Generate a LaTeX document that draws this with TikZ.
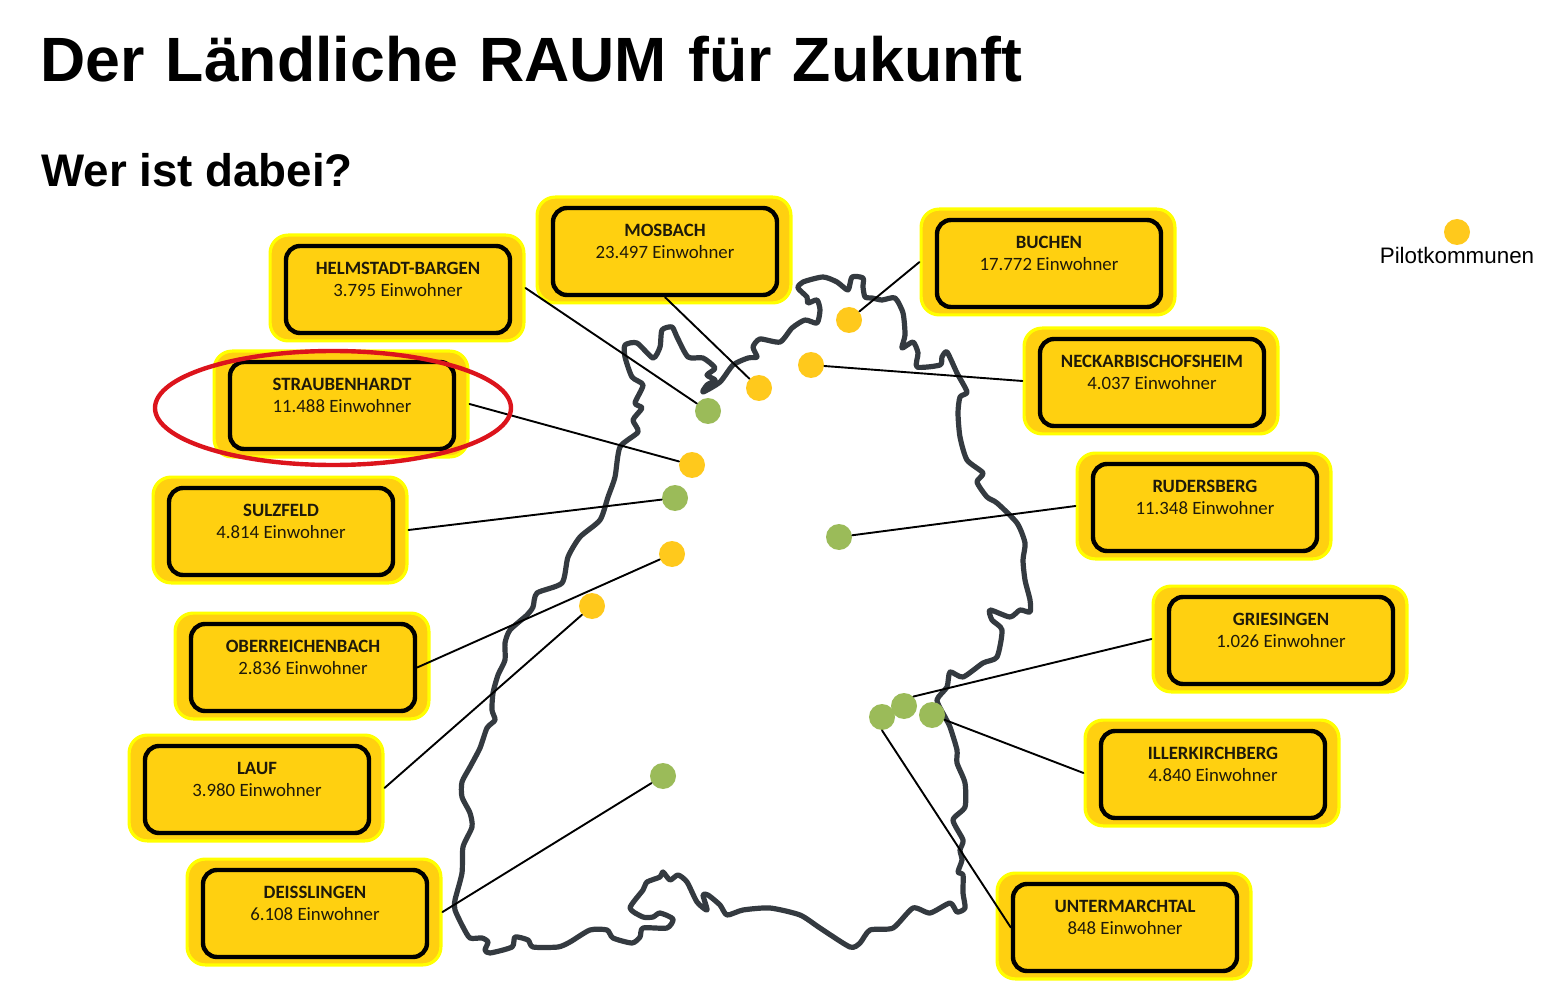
\documentclass[tikz,border=0pt]{standalone}
\usepackage{fontspec}
\setmainfont{Liberation Sans}
\newfontfamily\cityfont{Carlito}
\usepackage{tikz}
\usetikzlibrary{positioning}
\definecolor{citygold}{HTML}{FFD010}
\definecolor{cityhalo}{HTML}{FFFF00}
\definecolor{dotgold}{HTML}{FFC91C}
\definecolor{dotgreen}{HTML}{9BBB59}
\definecolor{outlinegray}{HTML}{343A40}
\definecolor{circlered}{HTML}{DC141C}
\definecolor{citytext}{HTML}{1F1A0A}
\tikzset{
halobox/.style={rectangle,rounded corners=9pt,draw=cityhalo,fill=citygold,line width=1.6pt,minimum width=126.9pt,minimum height=52.9pt,inner sep=0pt},
citybox/.style={rectangle,rounded corners=7pt,draw=black,line width=2.2pt,minimum width=112pt,minimum height=43.5pt,inner sep=0pt,align=center,text=citytext,font=\cityfont\fontsize{9.4}{11}\selectfont},
pilotgold/.style={circle,fill=dotgold,minimum size=13pt,inner sep=0pt},
pilotgreen/.style={circle,fill=dotgreen,minimum size=13pt,inner sep=0pt},
leader/.style={draw=black,line width=0.95pt}
}
\begin{document}
\begin{tikzpicture}[line cap=round,line join=round,x=0.5pt,y=-0.5pt]
\useasboundingbox (0,0) rectangle (1554,1000);
\node[anchor=base west,inner sep=0pt,font=\bfseries\fontsize{31.3}{31}\selectfont] (title) at (40,82) {\spaceskip=10.6pt Der Ländliche RAUM für Zukunft};
\node[anchor=base west,inner sep=0pt,font=\bfseries\fontsize{22.85}{23}\selectfont] (subtitle) at (41,187) {Wer ist dabei?};
\foreach \name/\x/\y/\city/\people in {
helmstadt/398/289.5/HELMSTADT-BARGEN/3.795,
mosbach/665/251.5/MOSBACH/23.497,
buchen/1049/263.5/BUCHEN/17.772,
neckar/1152/382.5/NECKARBISCHOFSHEIM/4.037,
straubenhardt/342/405.5/STRAUBENHARDT/11.488,
rudersberg/1205/507.5/RUDERSBERG/11.348,
sulzfeld/281/531.5/SULZFELD/4.814,
griesingen/1281/640.5/GRIESINGEN/1.026,
oberreichenbach/303/667.5/OBERREICHENBACH/2.836,
illerkirchberg/1213/774.5/ILLERKIRCHBERG/4.840,
lauf/257/789.5/LAUF/3.980,
untermarchtal/1125/927.5/UNTERMARCHTAL/848,
deisslingen/315/913.5/DEISSLINGEN/6.108}{
\node[halobox] (\name halo) at (\x-1,\y-1.5) {};
\node[citybox] (\name) at (\x,\y) {\textbf{\city}\\\people{} Einwohner\\[-1pt]\mbox{}};
}
\draw[outlinegray,line width=2.6pt] plot[smooth cycle,tension=0.4] coordinates {
(527,615) (510,630) (505,643) (505,660) (498,675) (493,693) (492,710) (495,720) (487,728) (480,748) (470,767) (462,782) (462,797) (470,813) (472,827) (463,847) (462,873) (455,900) (455,910) (463,927) (470,938) (482,938) (488,942) (485,950) (490,953) (512,947) (515,937) (528,940) (533,947) (558,947) (570,942) (590,930) (607,930) (613,938) (632,943) (640,937) (643,928) (667,928) (673,919) (660,913) (653,917) (643,917) (630,908) (643,890) (647,882) (660,877) (663,872) (670,880) (678,875) (687,882) (697,902) (707,910) (703,895) (708,895) (720,905) (727,915)
(743,910) (770,908) (800,915) (820,928) (850,947) (860,943) (870,930) (893,928) (913,908) (930,913) (950,903) (957,912) (965,908) (963,893) (963,875) (958,872) (962,860) (960,850) (963,840) (953,820) (965,807) (965,783) (957,763) (957,750) (950,727) (945,717) (937,700) (947,687) (950,672) (963,677) (983,663) (997,657) (1002,630) (992,620) (990,610) (1010,617) (1020,610) (1030,612)
(1030,600) (1025,580) (1023,560) (1025,543) (1017,523) (997,503) (987,497) (977,482) (983,473) (967,460) (960,437) (958,413) (960,397) (967,392) (957,373) (947,352) (942,357) (940,365) (917,367) (918,353) (913,342) (902,348) (905,335) (903,313) (895,298) (882,300) (872,298) (865,297) (863,287) (863,278) (852,277) (848,290) (837,282) (823,277) (803,282) (798,288) (807,297) (808,303) (817,300) (820,310) (817,323) (805,320) (792,328) (780,342) (760,339) (753,347) (757,357) (748,358) (733,365) (720,382) (703,392)
(707,385) (715,380) (707,375) (715,368) (703,358) (688,357) (677,337) (672,327) (662,330) (660,347) (653,358) (637,343) (625,345) (625,357) (632,377) (643,385) (635,403) (642,408) (633,420) (638,432) (620,447) (615,477) (608,497) (600,520) (580,537) (568,557) (562,583) (537,593) (533,607)};
\foreach \name/\style/\x/\y in {
dothelmstadt/pilotgreen/708/411,
dotmosbach/pilotgold/759/388,
dotbuchen/pilotgold/849/320,
dotneckar/pilotgold/811/365,
dotstraubenhardt/pilotgold/692/465,
dotrudersberg/pilotgreen/839/537,
dotsulzfeld/pilotgreen/675/498,
dotgriesingen/pilotgreen/904/706,
dotoberreichenbach/pilotgold/672/554,
dotillerkirchberg/pilotgreen/932/715,
dotlauf/pilotgold/592/606,
dotuntermarchtal/pilotgreen/882/717,
dotdeisslingen/pilotgreen/663/776}{
\node[\style] (\name) at (\x,\y) {};
}
\foreach \from/\to in {
helmstadthalo.east/dothelmstadt,
mosbach.south/dotmosbach,
buchenhalo.west/dotbuchen,
neckarhalo.west/dotneckar,
straubenhardthalo.east/dotstraubenhardt,
rudersberghalo.west/dotrudersberg,
sulzfeldhalo.east/dotsulzfeld,
griesingenhalo.west/dotgriesingen.north east,
oberreichenbach.east/dotoberreichenbach,
illerkirchberghalo.west/dotillerkirchberg,
laufhalo.east/dotlauf,
untermarchtal.west/dotuntermarchtal.south,
deisslingenhalo.east/dotdeisslingen}{
\draw[leader] (\from) -- (\to);
}
\node[pilotgold] (legenddot) at (1457,232) {};
\node[below=0.5pt of legenddot,inner sep=0pt,font=\fontsize{11.2}{13}\selectfont] (legend) {Pilotkommunen};
\draw[circlered,line width=2.2pt] (333,408) ellipse (178 and 57);
\end{tikzpicture}
\end{document}
